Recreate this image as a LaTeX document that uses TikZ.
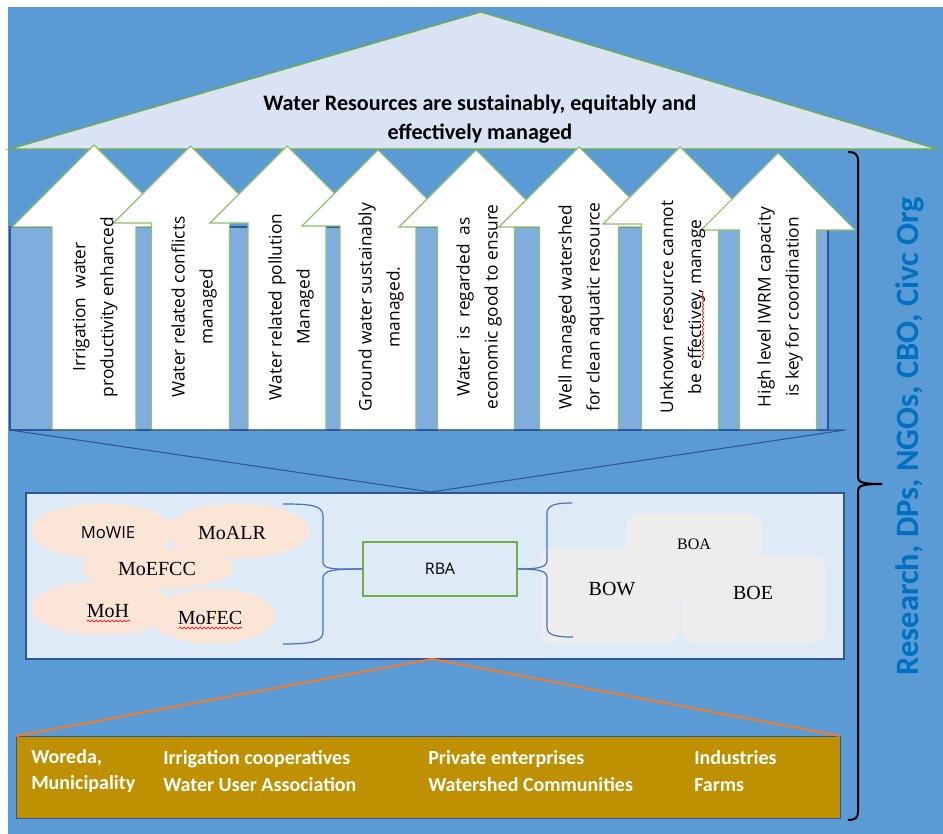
\documentclass[tikz,border=0pt]{standalone}
\usepackage{fontspec}
\newfontfamily\calb{Carlito}
\newfontfamily\osans{Open Sans}
\newfontfamily\lserif{Liberation Serif}
\usetikzlibrary{decorations.pathmorphing}
\definecolor{bgblue}{HTML}{5B9BD5}
\definecolor{trifill}{HTML}{DAE3F3}
\definecolor{grn}{HTML}{70AD47}
\definecolor{lgrn}{HTML}{8CC168}
\definecolor{colblue}{HTML}{7FAEDE}
\definecolor{dkblue}{HTML}{2F5597}
\definecolor{boxfill}{HTML}{DEEBF7}
\definecolor{peach}{HTML}{FBE5D6}
\definecolor{greybox}{HTML}{EDEDED}
\definecolor{brblue}{HTML}{4472C4}
\definecolor{orng}{HTML}{ED7D31}
\definecolor{gold}{HTML}{BF9000}
\definecolor{sidetxt}{HTML}{0070C0}
\newcommand\uparr[4]{%
  \draw[arrowshape] (#1,#2) -- ({#1+#3},{#2+#3}) -- ({#1+#4},{#2+#3}) -- ({#1+#4},430)
    -- ({#1-#4},430) -- ({#1-#4},{#2+#3}) -- ({#1-#3},{#2+#3}) -- cycle;}
\begin{document}
\begin{tikzpicture}[x=0.75pt,y=-0.75pt,
  arrowshape/.style={fill=white,draw=lgrn,line width=0.8pt},
  arrtext/.style={rotate=90,align=center,font=\osans\fontsize{13}{21}\selectfont,inner sep=0pt},
  sertext/.style={font=\lserif\fontsize{15}{18}\selectfont,inner sep=0pt},
  curly/.style={draw=brblue,line width=0.9pt},
  goldtext/.style={anchor=west,text=white,font=\calb\bfseries\fontsize{15}{20}\selectfont,inner sep=0pt,align=left},
  wavy/.style={draw=red,line width=0.5pt,decorate,decoration={snake,amplitude=0.7pt,segment length=3pt}}]
\useasboundingbox (0,0) rectangle (943,834);
\fill[white] (0,0) rectangle (943,834);
\fill[bgblue] (8,7) rectangle (943,834);
% goal triangle
\draw[fill=trifill,draw=grn,line width=1pt] (10,149) -- (481,12) -- (937,149) -- cycle;
\node[align=center,inner sep=0pt,font=\calb\bfseries\fontsize{16.6}{21.75}\selectfont] (goal) at (480,119)
  {Water Resources are sustainably, equitably and\\effectively managed};
% arrow panel
\draw[fill=colblue,draw=dkblue,line width=0.8pt] (10,227) rectangle (828,430);
\uparr{94}{145}{82}{42}
\uparr{190.5}{146}{77}{39}
\uparr{287}{146}{77}{39}
\uparr{378}{150}{76}{38}
\uparr{476}{150}{77}{38.5}
\uparr{579}{147}{80}{39.5}
\uparr{680}{147}{77}{38.5}
\uparr{778}{153}{77}{38.5}
\node[arrtext] (a1) at (95,307) {Irrigation\ \ water\\productivity enhanced};
\node[arrtext] (a2) at (194,307) {Water related conflicts\\managed};
\node[arrtext] (a3) at (291,307) {Water related pollution\\Managed};
\node[arrtext] (a4) at (381,307) {Ground water sustainably\\managed.};
\node[arrtext] (a5) at (479,307) {Water\ \ is\ \ regarded\ \ as\\economic good to ensure};
\node[arrtext] (a6) at (581,307) {Well managed watershed\\for clean aquatic resource};
\node[arrtext] (a7) at (682.5,307) {Unknown resource cannot\\be effectivey, manage};
\node[arrtext] (a8) at (780,307) {High level IWRM capacity\\is key for coordination};
\draw[wavy] (703,360) -- (703,292);
% pointer to middle box
\draw[draw=dkblue,line width=0.8pt] (10,430) -- (845,430) -- (431,492) -- cycle;
% middle box
\draw[fill=boxfill,draw=dkblue,line width=0.8pt] (26,493) rectangle (844,659);
\fill[peach] (102.5,531) ellipse [x radius=71,y radius=27.5];
\fill[peach] (238,531) ellipse [x radius=71,y radius=27.5];
\fill[peach] (157.5,568) ellipse [x radius=76,y radius=21];
\fill[peach] (102.5,608) ellipse [x radius=71,y radius=27];
\fill[peach] (213,616) ellipse [x radius=63,y radius=27.5];
\node[font=\osans\fontsize{12.5}{15}\selectfont,inner sep=0pt] (mowie) at (108,533) {MoWIE};
\node[sertext] (moalr) at (232,533) {MoALR};
\node[sertext] (moefcc) at (157,569) {MoEFCC};
\node[sertext] (moh) at (108,611) {MoH};
\node[sertext] (mofec) at (210,618) {MoFEC};
\draw[wavy] (87,621) -- (130,621);
\draw[wavy] (179,628) -- (242,628);
\node[draw=grn,line width=0.8pt,minimum width=115.5pt,minimum height=40.5pt,
  font=\osans\fontsize{12}{15}\selectfont] (rba) at (440,569) {RBA};
\fill[greybox,rounded corners=9pt] (626,514) rectangle (762,600);
\fill[greybox,rounded corners=9pt] (541,548) rectangle (680,643);
\fill[greybox,rounded corners=9pt] (682,556) rectangle (825,642);
\node[font=\lserif\fontsize{12}{15}\selectfont] (boa) at (694,544) {BOA};
\node[sertext] (bow) at (612,589) {BOW};
\node[sertext] (boe) at (753,593) {BOE};
% braces
\draw[curly] (283,504) .. controls (310,504) and (323,505) .. (323,516) -- (323,562)
  .. controls (323,570) and (335,569) .. (rba.west);
\draw[curly] (rba.west) .. controls (335,569) and (323,570) .. (323,578) -- (323,632)
  .. controls (323,642) and (310,644) .. (283,644);
\draw[curly] (572,503) .. controls (555,503) and (547,505) .. (547,514) -- (547,561)
  .. controls (547,568) and (535,569) .. (rba.east);
\draw[curly] (rba.east) .. controls (535,569) and (547,570) .. (547,577) -- (547,627)
  .. controls (547,635) and (555,637) .. (573,637);
% bottom level
\coordinate (midbot) at (432,659);
\draw[fill=gold,draw=dkblue,line width=0.6pt] (16,736) rectangle (840,818);
\coordinate (goldtl) at (16,736);
\coordinate (goldtr) at (840,736);
\draw[orng,line width=1.5pt] (goldtl) -- (midbot) -- (goldtr);
\node[goldtext] (g1) at (31,771) {Woreda,\\Municipality};
\node[goldtext] (g2) at (163,771) {Irrigation\ cooperatives\\Water User Association};
\node[goldtext] (g3) at (428,771) {Private enterprises\\Watershed Communities};
\node[goldtext] (g4) at (694,771) {Industries\\Farms};
% side brace
\coordinate (bracetip) at (882,484);
\draw[black,line width=1.5pt] (848,152) .. controls (855,152) and (858,154) .. (858,161) -- (858,477)
  .. controls (858,482) and (861,484) .. (bracetip);
\draw[black,line width=1.5pt] (bracetip) .. controls (861,484) and (858,486) .. (858,491) -- (858,812)
  .. controls (858,818) and (855,820) .. (848,820);
\node[rotate=90,text=sidetxt,font=\calb\bfseries\fontsize{24.4}{28}\selectfont] (side) at (910,436)
  {Research, DPs, NGOs, CBO, Civc Org};
\end{tikzpicture}
\end{document}
